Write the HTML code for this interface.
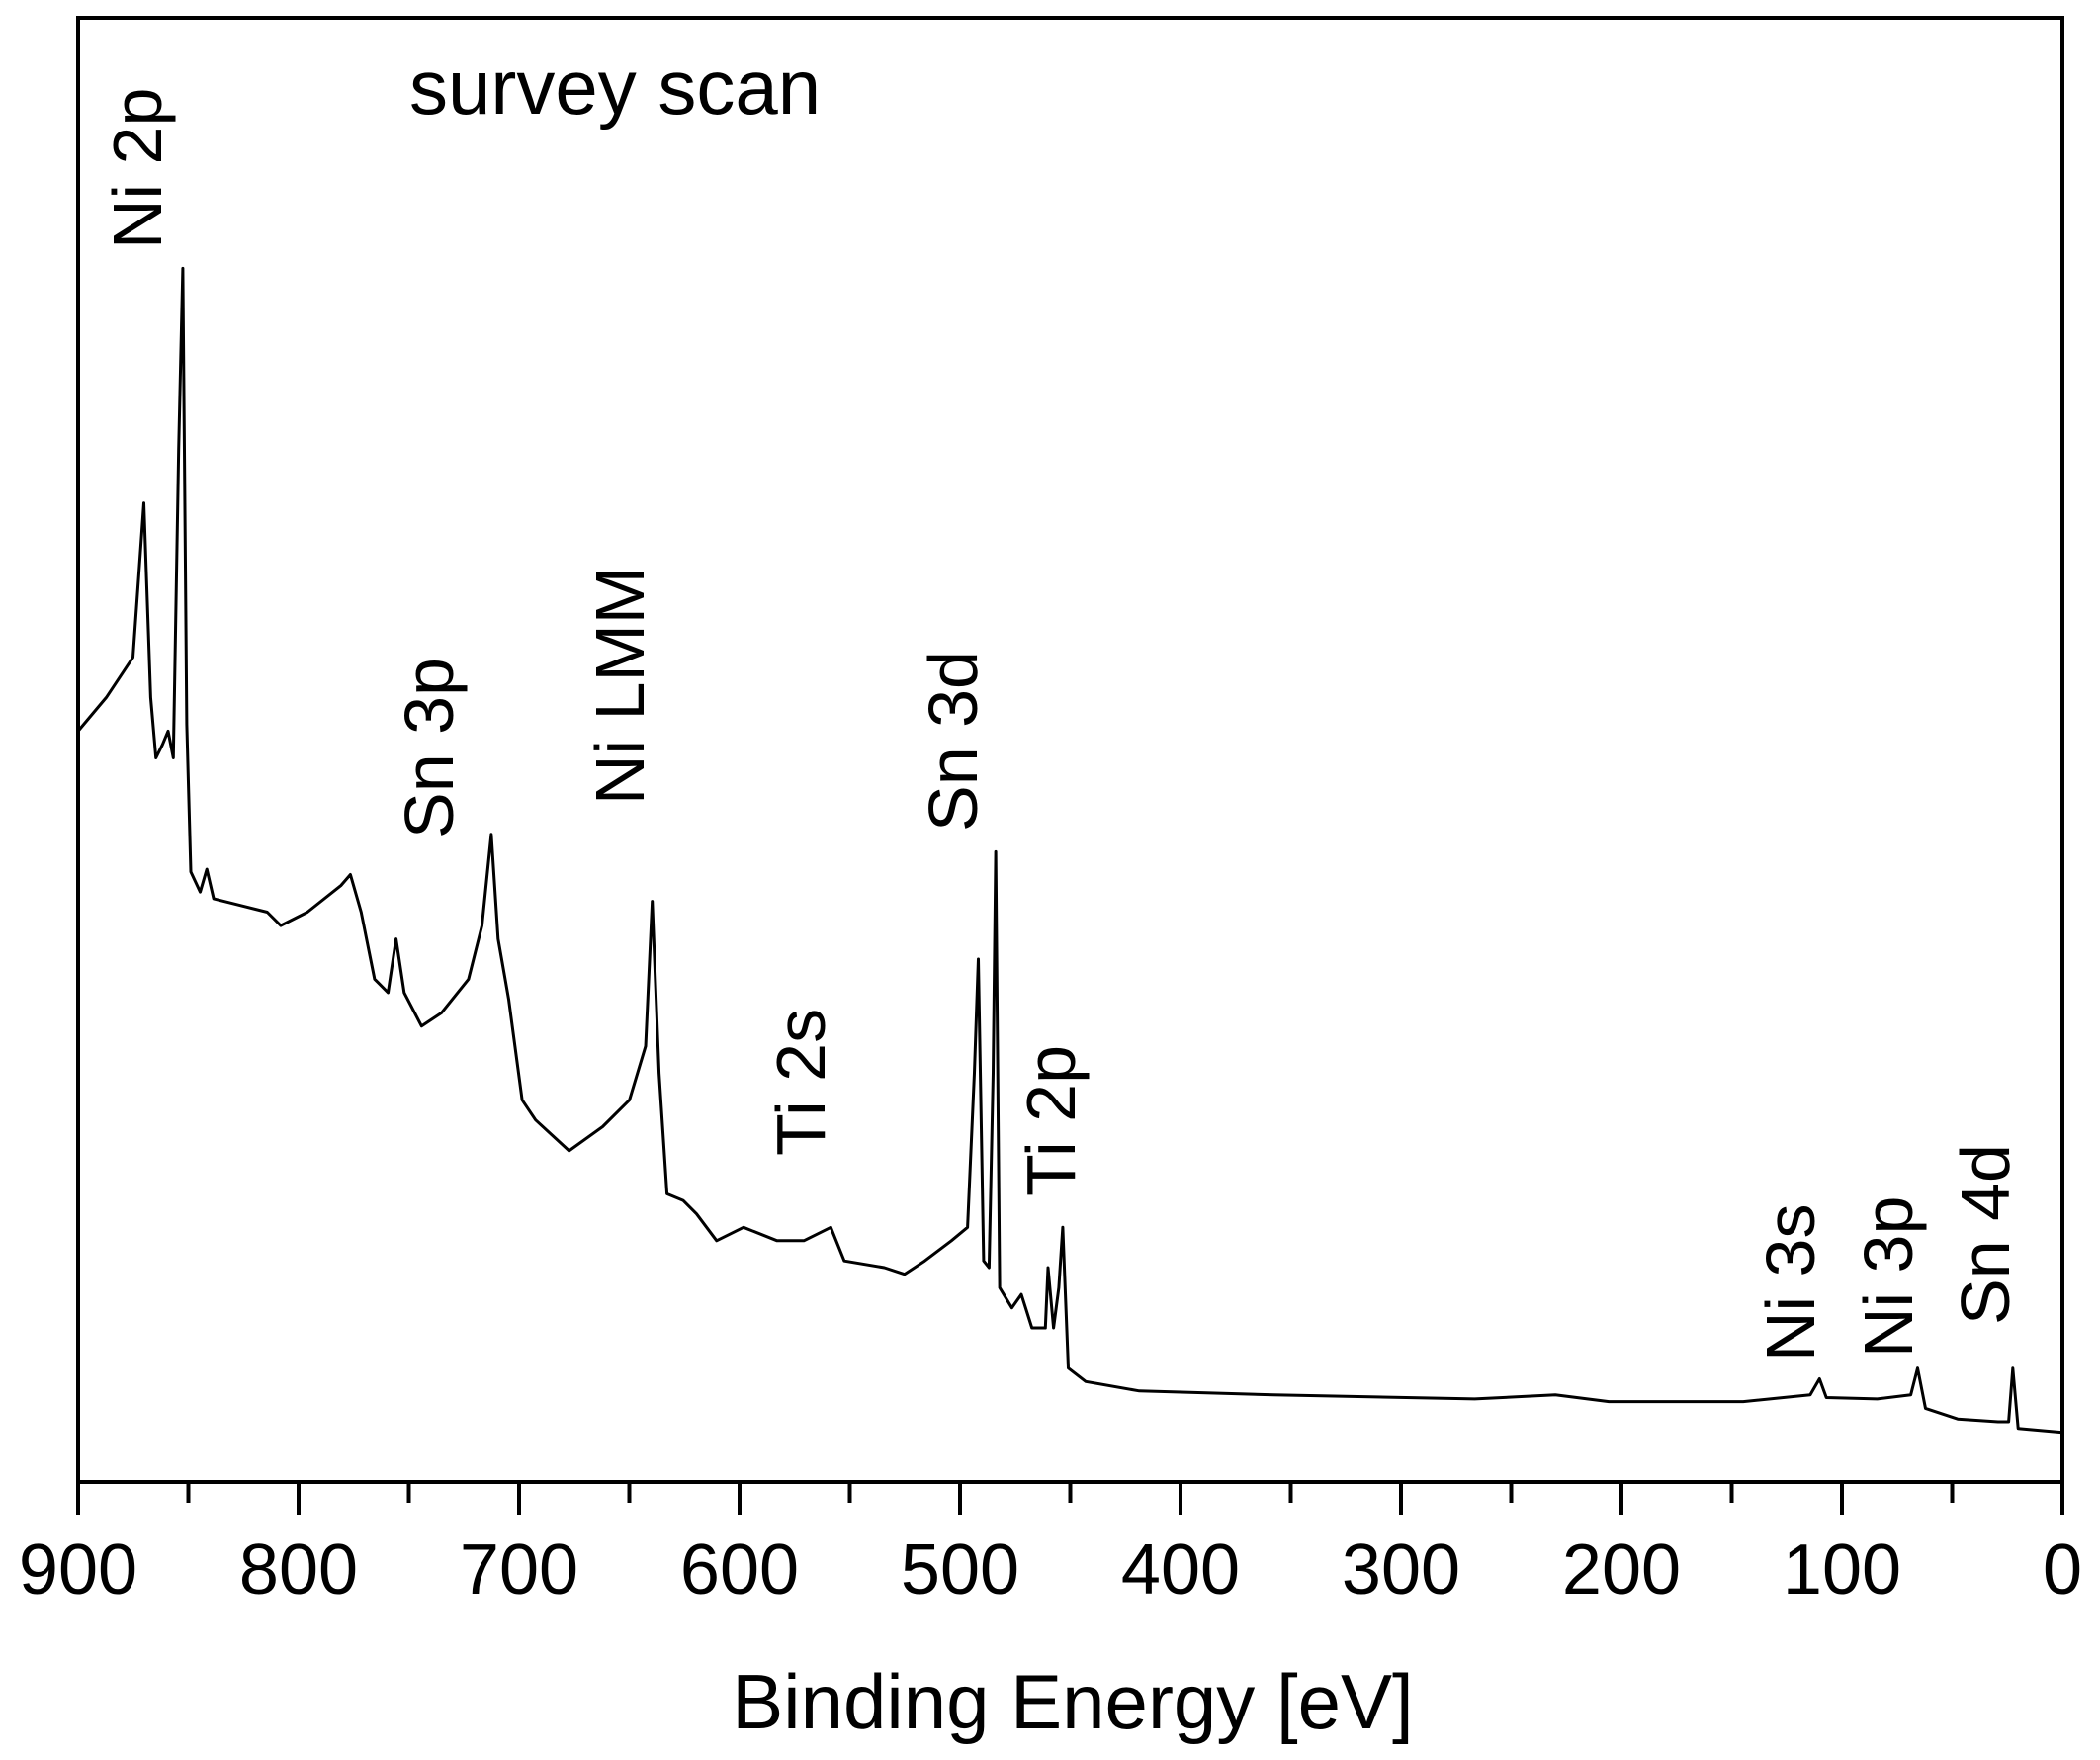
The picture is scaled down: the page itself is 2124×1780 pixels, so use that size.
<!DOCTYPE html>
<html><head><meta charset="utf-8"><style>
html,body{margin:0;padding:0;background:#fff;}
svg{display:block;font-family:"Liberation Sans",Arial,sans-serif;}
</style></head><body>
<svg id="chart" width="2124" height="1780" viewBox="0 0 2124 1780" xmlns="http://www.w3.org/2000/svg">
<rect x="79" y="18" width="2007" height="1481" fill="none" stroke="#000" stroke-width="4"/>
<g id="ticks"></g>
<g id="series"></g>
<text x="414" y="115" font-size="78">survey scan</text>
<text x="1085" y="1748" font-size="78" text-anchor="middle">Binding Energy [eV]</text>
<g id="labels"></g>
</svg>
<script>
const energies=[900,887.2,875.1,870.2,867.1,864.7,861.7,859.2,856.8,854.4,852.5,850.7,848.9,844.6,841.6,838.5,826.4,814.2,808.1,796.0,780.7,776.5,771.6,765.5,759.4,755.8,752.1,744.2,735.1,722.9,716.8,712.6,709.5,704.7,698.6,692.5,677.3,662.1,649.9,642.6,639.6,636.5,632.9,625.6,619.5,610.4,598.2,583.0,570.8,558.6,552.5,534.3,525.2,516.0,503.9,496.6,493.5,491.7,489.3,486.8,485.0,483.8,482.0,476.5,472.2,467.4,461.3,460.1,457.6,455.2,453.4,450.9,443.0,418.7,357.8,266.6,230.0,205.7,144.8,114.4,110.2,107.1,84.0,68.8,65.7,62.1,47.5,29.2,24.4,22.5,20.1,0];
const intensities=[560,585,615,730,585,540,550,560,540,770,905,565,455,440,457,435,430,425,415,425,445,453,425,375,365,405,365,340,350,375,415,483,405,360,285,270,247,265,285,325,433,305,215,210,200,180,190,180,180,190,165,160,155,165,180,190,305,390,165,160,305,470,145,130,140,115,115,160,115,145,190,85,75,68,65,62,65,60,60,65,77,63,62,65,85,55,47,45,45,85,40,37];
const tickVals=[900,800,700,600,500,400,300,200,100,0];
const minorVals=[850,750,650,550,450,350,250,150,50];
const peakLabels=["Ni 2p","Sn 3p","Ni LMM","Ti 2s","Sn 3d","Ti 2p","Ni 3s","Ni 3p","Sn 4d"];
const peakLabelPos=[[163,252],[458,848],[651,814],[834,1169],[988,841],[1087,1210],[1835,1377],[1934,1373],[2032,1340]];
const NS="http://www.w3.org/2000/svg";
const X=e=>79+(900-e)/900*2007;
const Y=v=>1499-v*1.3565;
const tg=document.getElementById('ticks');
tickVals.forEach(t=>{
 const l=document.createElementNS(NS,'line');
 l.setAttribute('x1',X(t));l.setAttribute('x2',X(t));l.setAttribute('y1',1499);l.setAttribute('y2',1532);
 l.setAttribute('stroke','#000');l.setAttribute('stroke-width','4');
 
 
 tg.appendChild(l);
 const tx=document.createElementNS(NS,'text');
 tx.setAttribute('x',X(t));tx.setAttribute('y',1612);tx.setAttribute('font-size','72');tx.setAttribute('text-anchor','middle');
 tx.textContent=t;
 
 
 tg.appendChild(tx);
});
minorVals.forEach(t=>{
 const l=document.createElementNS(NS,'line');
 l.setAttribute('x1',X(t));l.setAttribute('x2',X(t));l.setAttribute('y1',1499);l.setAttribute('y2',1520);
 l.setAttribute('stroke','#000');l.setAttribute('stroke-width','4');
 
 
 tg.appendChild(l);
});
const p=document.createElementNS(NS,'path');
p.setAttribute('d',energies.map((e,i)=>(i?'L':'M')+X(e).toFixed(1)+' '+Y(intensities[i]).toFixed(1)).join(' '));
p.setAttribute('fill','none');p.setAttribute('stroke','#000');p.setAttribute('stroke-width','3');p.setAttribute('stroke-linejoin','round');


document.getElementById('series').appendChild(p);
const lg=document.getElementById('labels');
peakLabels.forEach((s,i)=>{
 const t=document.createElementNS(NS,'text');
 const [x,y]=peakLabelPos[i];
 t.setAttribute('transform','translate('+x+','+y+') rotate(-90)');
 t.setAttribute('font-size','70');
 t.textContent=s;
 
 
 lg.appendChild(t);
});
</script>
</body></html>
